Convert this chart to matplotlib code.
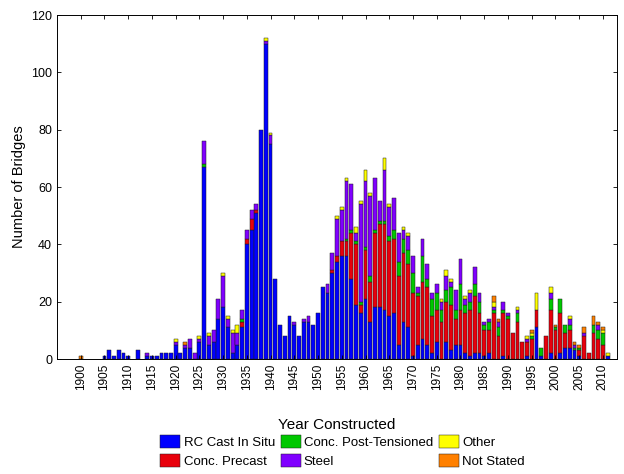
import numpy as np
import matplotlib
matplotlib.use("Agg")
import matplotlib.pyplot as plt

plt.rcParams['font.family'] = ['Liberation Sans', 'DejaVu Sans']

years = list(range(1900, 2012))

# bridge counts per year of construction, by form of construction
rc_cast = [0, 0, 0, 0, 0, 1, 3, 1, 3, 2,
           1, 0, 3, 0, 1, 1, 1, 2, 2, 2,
           5, 2, 4, 4, 0, 6, 67, 5, 6, 14,
           18, 11, 2, 5, 11, 40, 45, 51, 80, 110,
           75, 28, 12, 8, 15, 12, 8, 13, 13, 12,
           16, 25, 23, 30, 34, 36, 36, 28, 19, 16,
           21, 13, 18, 18, 17, 15, 16, 5, 13, 11,
           1, 5, 7, 5, 2, 6, 0, 6, 3, 5,
           5, 2, 1, 2, 2, 1, 2, 0, 0, 1,
           0, 0, 0, 0, 1, 0, 11, 1, 0, 2,
           0, 2, 4, 4, 3, 1, 0, 0, 0, 0,
           0, 1]
precast = [0, 0, 0, 0, 0, 0, 0, 0, 0, 0,
           0, 0, 0, 0, 0, 0, 0, 0, 0, 0,
           0, 0, 0, 0, 0, 0, 0, 0, 0, 0,
           0, 0, 0, 0, 2, 2, 4, 1, 0, 0,
           0, 0, 0, 0, 0, 0, 0, 0, 0, 0,
           0, 0, 0, 1, 2, 5, 5, 16, 21, 3,
           17, 14, 26, 29, 30, 26, 26, 24, 24, 22,
           22, 17, 20, 20, 13, 11, 13, 14, 16, 9,
           12, 14, 16, 20, 14, 9, 8, 16, 8, 15,
           14, 9, 13, 6, 5, 7, 6, 0, 8, 15,
           10, 14, 5, 6, 0, 2, 8, 2, 9, 7,
           5, 0]
post_tensioned = [0, 0, 0, 0, 0, 0, 0, 0, 0, 0,
                  0, 0, 0, 0, 0, 0, 0, 0, 0, 0,
                  0, 0, 0, 0, 0, 0, 1, 0, 0, 0,
                  0, 0, 0, 0, 1, 0, 0, 0, 0, 0,
                  0, 0, 0, 0, 0, 0, 0, 0, 0, 0,
                  0, 0, 0, 0, 0, 0, 1, 1, 1, 1,
                  1, 2, 1, 1, 1, 2, 3, 5, 5, 5,
                  7, 1, 9, 3, 6, 6, 4, 4, 6, 3,
                  9, 3, 3, 4, 4, 2, 3, 1, 3, 1,
                  1, 0, 3, 0, 0, 1, 0, 3, 0, 4,
                  1, 5, 3, 2, 1, 1, 0, 0, 3, 3,
                  4, 0]
steel = [0, 0, 0, 0, 0, 0, 0, 0, 0, 0,
         0, 0, 0, 0, 1, 0, 0, 0, 0, 0,
         1, 0, 1, 3, 2, 1, 8, 3, 4, 7,
         11, 3, 7, 4, 3, 3, 3, 2, 0, 1,
         3, 0, 0, 0, 0, 1, 0, 1, 2, 0,
         0, 0, 3, 6, 13, 11, 20, 16, 3, 34,
         23, 28, 18, 7, 18, 10, 11, 10, 3, 5,
         6, 2, 6, 5, 2, 3, 3, 5, 2, 7,
         9, 2, 3, 6, 3, 1, 1, 1, 2, 3,
         1, 0, 1, 0, 1, 0, 0, 0, 0, 2,
         0, 0, 0, 2, 1, 0, 1, 0, 0, 2,
         0, 0]
other = [0, 0, 0, 0, 0, 0, 0, 0, 0, 0,
         0, 0, 0, 0, 0, 0, 0, 0, 0, 0,
         1, 0, 0, 0, 0, 1, 0, 1, 0, 0,
         1, 1, 1, 3, 0, 0, 0, 0, 0, 1,
         1, 0, 0, 0, 0, 0, 0, 0, 0, 0,
         0, 0, 0, 0, 1, 1, 1, 0, 2, 1,
         4, 1, 0, 0, 4, 1, 0, 0, 1, 1,
         0, 0, 0, 0, 0, 0, 1, 2, 1, 0,
         0, 1, 1, 0, 0, 0, 0, 2, 0, 0,
         0, 0, 1, 0, 1, 1, 6, 0, 0, 2,
         0, 0, 0, 1, 0, 0, 0, 0, 0, 0,
         1, 1]
not_stated = [1, 0, 0, 0, 0, 0, 0, 0, 0, 0,
              0, 0, 0, 0, 0, 0, 0, 0, 0, 0,
              0, 0, 1, 0, 0, 0, 0, 0, 0, 0,
              0, 0, 0, 0, 0, 0, 0, 0, 0, 0,
              0, 0, 0, 0, 0, 0, 0, 0, 0, 0,
              0, 0, 0, 0, 0, 0, 0, 0, 0, 0,
              0, 0, 0, 0, 0, 0, 0, 0, 0, 0,
              0, 0, 0, 0, 0, 0, 0, 0, 0, 0,
              0, 0, 0, 0, 0, 0, 0, 2, 1, 0,
              0, 0, 0, 0, 0, 1, 0, 0, 0, 0,
              1, 0, 0, 0, 1, 1, 2, 0, 3, 1,
              1, 0]

series = [
    ("RC Cast In Situ", rc_cast, "#0000ff"),
    ("Conc. Precast", precast, "#e8000b"),
    ("Conc. Post-Tensioned", post_tensioned, "#00c800"),
    ("Steel", steel, "#8000ff"),
    ("Other", other, "#ffff00"),
    ("Not Stated", not_stated, "#ff8000"),
]

fig = plt.figure(figsize=(6.24, 4.74), dpi=100)
ax = fig.add_axes([0.0913, 0.2426, 0.8977, 0.7257])

x = np.array(years)
bottom = np.zeros(len(years))
for name, vals, col in series:
    vals = np.array(vals, dtype=float)
    nz = vals > 0
    # skip empty segments so no flat outlines sit on the baseline
    ax.bar(x[nz], vals[nz], width=0.8, bottom=bottom[nz], color=col,
           edgecolor="#202020", linewidth=0.35, label=name)
    bottom += vals

ax.set_xlim(1895, 2013)
ax.set_ylim(0, 120)
ax.set_xticks(range(1900, 2011, 5))
ax.set_xticklabels([str(y) for y in range(1900, 2011, 5)], rotation=90, fontsize=8.5)
ax.set_yticks(range(0, 121, 20))
ax.tick_params(axis="y", labelsize=9)
ax.tick_params(direction="in", top=True, right=True, length=3, width=0.6)
for s in ax.spines.values():
    s.set_linewidth(0.7)

ax.set_ylabel("Number of Bridges", fontsize=10.5)
ax.set_xlabel("Year Constructed", fontsize=11, labelpad=20)

fig.legend(ncol=3, loc="center", bbox_to_anchor=(0.549, 0.0475), frameon=False,
           fontsize=9.5, handlelength=1.5, handleheight=1.15, columnspacing=0.45,
           handletextpad=0.25, labelspacing=0.43, borderaxespad=0)

fig.savefig("out.png", dpi=100, facecolor="white")
